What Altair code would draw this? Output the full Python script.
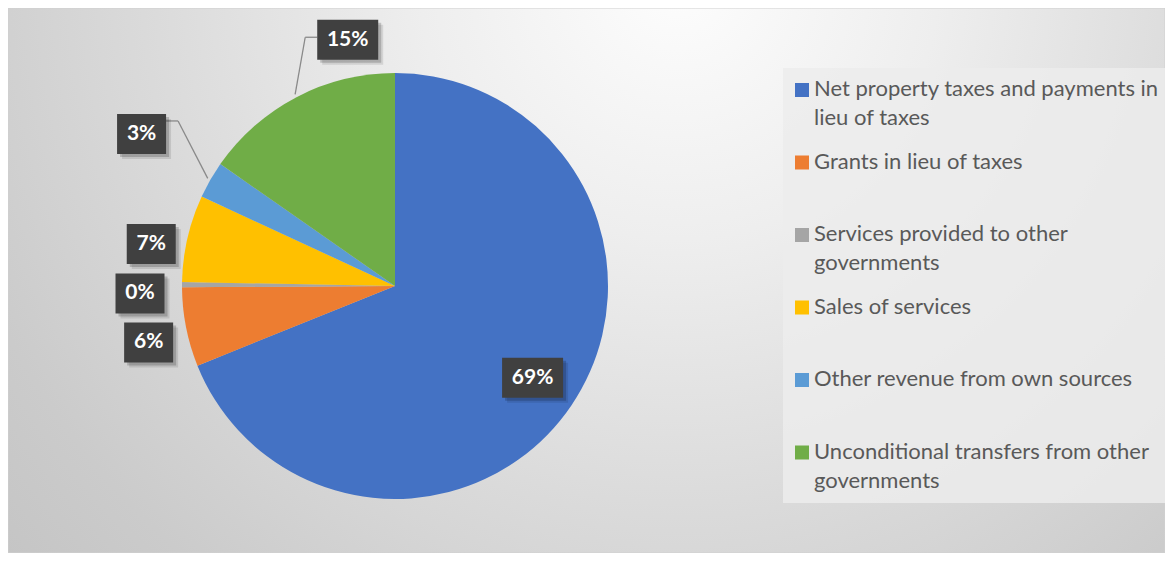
import math
import altair as alt
import pandas as pd

# ---- data ----
categories = [
    "Net property taxes and payments in lieu of taxes",
    "Grants in lieu of taxes",
    "Services provided to other governments",
    "Sales of services",
    "Other revenue from own sources",
    "Unconditional transfers from other governments",
]
legend_text = [
    "Net property taxes and payments in\nlieu of taxes",
    "Grants in lieu of taxes",
    "Services provided to other\ngovernments",
    "Sales of services",
    "Other revenue from own sources",
    "Unconditional transfers from other\ngovernments",
]
shares = [68.9, 6.0, 0.4, 6.6, 2.8, 15.3]
colors = ["#4472C4", "#ED7D31", "#A5A5A5", "#FFC000", "#5B9BD5", "#70AD47"]

# ---- label layout (offsets from the radial anchor, px) ----
label_dx = [0, -6, -10, -5, -41, 66]
label_dy = [-1, 9, 9, 13, -30, -29]
has_leader = [False, False, False, False, True, True]
elbow_dx = [0, 0, 0, 0, 36.5, -42.5]
elbow_dy = [0, 0, 0, 0, -13, -2.5]

W, H = 1157, 545
CX, CY, R = 387, 278, 213
FONT = "Lato"

df = pd.DataFrame({
    "cat": categories,
    "text": legend_text,
    "share": shares,
    "idx": list(range(len(categories))),
    "ldx": label_dx,
    "ldy": label_dy,
    "leader": has_leader,
    "edx": elbow_dx,
    "edy": elbow_dy,
})

color_scale = alt.Scale(domain=categories, range=colors)
one = pd.DataFrame({"z": [0]})

# background with radial gradient
bg = alt.Chart(one).mark_rect(
    color=alt.Gradient(
        gradient="radial",
        x1=0.58, y1=0.24, r1=0.0,
        x2=0.58, y2=0.24, r2=0.8,
        stops=[
            alt.GradientStop(color="#fdfdfd", offset=0.0),
            alt.GradientStop(color="#eeeeee", offset=0.28),
            alt.GradientStop(color="#dadada", offset=0.58),
            alt.GradientStop(color="#cbcbcb", offset=0.82),
            alt.GradientStop(color="#c3c3c3", offset=1.0),
        ],
    ),
    stroke="#d0d0d0",
    strokeWidth=1,
).encode(x=alt.value(0), x2=alt.value(W), y=alt.value(0), y2=alt.value(H))

# soft pie shadow
shadow1 = alt.Chart(one).mark_circle(
    size=math.pi * (R + 6) ** 2, color="#000000", opacity=0.04
).encode(x=alt.value(CX + 3), y=alt.value(CY + 4))
shadow2 = alt.Chart(one).mark_circle(
    size=math.pi * (R + 3) ** 2, color="#000000", opacity=0.06
).encode(x=alt.value(CX + 2), y=alt.value(CY + 3))

pie = alt.Chart(df).mark_arc(radius=R).encode(
    theta=alt.Theta("share:Q", stack=True),
    order=alt.Order("idx:Q"),
    color=alt.Color("cat:N", scale=color_scale, legend=None),
    x=alt.value(CX),
    y=alt.value(CY),
)

base = alt.Chart(df).transform_window(
    cum="sum(share)", sort=[alt.SortField("idx")], frame=[None, 0]
).transform_joinaggregate(
    total="sum(share)"
).transform_calculate(
    mid="(datum.cum - datum.share / 2) / datum.total * 2 * PI",
    lbl="format(datum.share / 100, '.0%')",
    rr="datum.share > 50 ? 166 : 245",
    bx=f"{CX} + datum.rr * sin(datum.mid) + datum.ldx",
    by=f"{CY} - datum.rr * cos(datum.mid) + datum.ldy",
    bw="25 + 12 * length(datum.lbl)",
    x1="datum.bx - datum.bw / 2",
    x2="datum.bx + datum.bw / 2",
    y1="datum.by - 20",
    y2="datum.by + 20",
    px=f"{CX} + 216 * sin(datum.mid)",
    py=f"{CY} - 216 * cos(datum.mid)",
    ex="datum.bx + datum.edx",
    ey="datum.by + datum.edy",
    ax="datum.edx < 0 ? datum.x1 : datum.x2",
)

leaders = base.transform_filter("datum.leader")
lead1 = leaders.mark_rule(color="#8a8a8a", strokeWidth=1.3).encode(
    x=alt.X("px:Q", scale=None), y=alt.Y("py:Q", scale=None),
    x2="ex:Q", y2="ey:Q",
)
lead2 = leaders.mark_rule(color="#8a8a8a", strokeWidth=1.3).encode(
    x=alt.X("ex:Q", scale=None), y=alt.Y("ey:Q", scale=None),
    x2="ax:Q", y2="ey:Q",
)

box_sh2 = base.mark_rect(color="#000000", opacity=0.10).transform_calculate(
    sx1="datum.x1 + 5", sx2="datum.x2 + 5", sy1="datum.y1 + 5", sy2="datum.y2 + 5"
).encode(
    x=alt.X("sx1:Q", scale=None), x2="sx2:Q",
    y=alt.Y("sy1:Q", scale=None), y2="sy2:Q",
)
box_sh = base.mark_rect(color="#000000", opacity=0.18).transform_calculate(
    sx1="datum.x1 + 3", sx2="datum.x2 + 3", sy1="datum.y1 + 3", sy2="datum.y2 + 3"
).encode(
    x=alt.X("sx1:Q", scale=None), x2="sx2:Q",
    y=alt.Y("sy1:Q", scale=None), y2="sy2:Q",
)
box = base.mark_rect(color="#404040").encode(
    x=alt.X("x1:Q", scale=None), x2="x2:Q",
    y=alt.Y("y1:Q", scale=None), y2="y2:Q",
)
box_txt = base.mark_text(
    color="#ffffff", font=FONT, fontSize=21, fontWeight="bold",
    align="center", baseline="middle",
).encode(
    x=alt.X("bx:Q", scale=None), y=alt.Y("by:Q", scale=None), text="lbl:N"
)

# legend
leg_bg = alt.Chart(one).mark_rect(color="#ececec", opacity=0.85).encode(
    x=alt.value(775), x2=alt.value(W), y=alt.value(60), y2=alt.value(495)
)
leg_y = alt.Y("idx:Q", scale=alt.Scale(domain=[0, 5], range=[82, 444.5], nice=False, zero=False), axis=None)
leg_sw = alt.Chart(df).mark_square(size=196, opacity=1).encode(
    x=alt.value(794), y=leg_y,
    color=alt.Color("cat:N", scale=color_scale, legend=None),
)
leg_txt = alt.Chart(df).mark_text(
    align="left", baseline="top", dy=-11, lineBreak="\n", lineHeight=29,
    font=FONT, fontSize=22, color="#595959",
).encode(x=alt.value(806), y=leg_y, text="text:N")

chart = alt.layer(
    bg, shadow1, shadow2, pie, lead1, lead2, box_sh2, box_sh, box, box_txt,
    leg_bg, leg_sw, leg_txt,
).resolve_scale(
    x="independent", y="independent"
).properties(
    width=W, height=H, padding=0,
    autosize=alt.AutoSizeParams(type="none"),
).configure_view(stroke=None)

chart.save("out.html", embed_options={"renderer": "svg", "actions": False})
